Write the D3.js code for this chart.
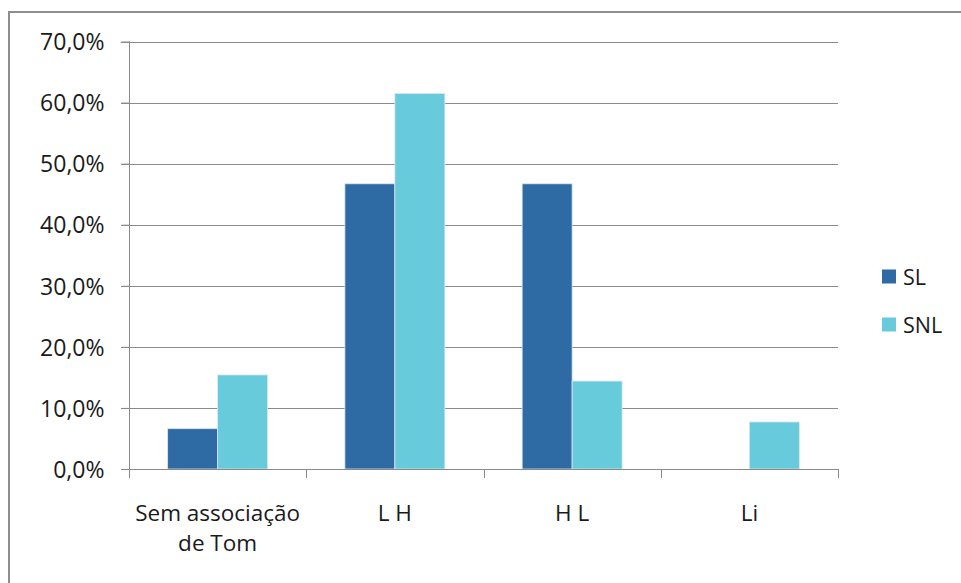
<!DOCTYPE html>
<html>
<head>
<meta charset="utf-8">
<script src="https://cdn.jsdelivr.net/npm/d3@7"></script>
<style>
  html, body { margin: 0; padding: 0; background: #fff; }
  svg { display: block; }
  text { font-family: "Open Sans", sans-serif; fill: #1a1a1a; }
</style>
</head>
<body>
<svg id="chart" width="961" height="583"></svg>
<script>
const categories = [["Sem associação", "de Tom"], ["L H"], ["H L"], ["Li"]];
const seriesNames = ["SL", "SNL"];
const slValues = [6.6, 46.7, 46.7, 0];
const snlValues = [15.4, 61.5, 14.4, 7.7];
const yTicks = [0, 10, 20, 30, 40, 50, 60, 70];
const colors = ["#2E6BA4", "#67CBDB"];

const svg = d3.select("#chart");
const plot = { left: 129, right: 838, top: 41.5, bottom: 469 };

// outer chart border
svg.append("rect")
  .attr("x", 9).attr("y", 12)
  .attr("width", 1000).attr("height", 1000)
  .attr("fill", "none").attr("stroke", "#8e8e8e").attr("stroke-width", 2);

const catIdx = categories.map((d, i) => i);
const x = d3.scaleBand().domain(catIdx).range([plot.left, plot.right]).padding(0);
const bw = x.bandwidth();
const x1 = d3.scaleBand().domain(seriesNames).range([0.218 * bw, 0.782 * bw]).padding(0);
const y = d3.scaleLinear().domain([0, 70]).range([plot.bottom, plot.top]);

// gridlines
svg.append("g").selectAll("line").data(yTicks.filter(t => t > 0)).join("line")
  .attr("x1", plot.left - 8).attr("x2", plot.right)
  .attr("y1", d => Math.round(y(d)) + 0.5).attr("y2", d => Math.round(y(d)) + 0.5)
  .attr("stroke", "#8a8a8a").attr("stroke-width", 1);

// bars
const data = catIdx.map(i => ({ i, vals: [slValues[i], snlValues[i]] }));
const groups = svg.append("g").selectAll("g").data(data).join("g")
  .attr("transform", d => `translate(${x(d.i)},0)`);
groups.selectAll("rect").data(d => d.vals.map((v, k) => ({ v, k })).filter(e => e.v > 0)).join("rect")
  .attr("x", e => x1(seriesNames[e.k]))
  .attr("width", x1.bandwidth())
  .attr("y", e => y(e.v))
  .attr("height", e => y(0) - y(e.v))
  .attr("fill", e => colors[e.k])
  .attr("stroke", "#dbe6ef").attr("stroke-width", 0.8);

// y axis
const yAxis = d3.axisLeft(y).tickValues(yTicks).tickSize(8)
  .tickFormat(d => d.toFixed(1).replace(".", ",") + "%");
const yg = svg.append("g").attr("transform", `translate(${plot.left + 0.5},0)`).call(yAxis);
yg.select(".domain").attr("stroke", "#8a8a8a").attr("d", `M0,${y(70)}V${y(0)}`);
yg.selectAll(".tick line").attr("stroke", "#8a8a8a");
yg.selectAll(".tick text")
  .attr("x", -25).attr("dy", "0.36em")
  .style("font-family", "'Open Sans', sans-serif").style("font-size", "23px").attr("fill", "#1a1a1a");

// x axis
const xa = svg.append("g");
xa.append("line").attr("x1", plot.left - 8).attr("x2", plot.right)
  .attr("y1", plot.bottom + 0.5).attr("y2", plot.bottom + 0.5).attr("stroke", "#8a8a8a");
const bounds = catIdx.map(i => x(i)).concat([x(catIdx[catIdx.length - 1]) + bw]);
xa.selectAll("line.t").data(bounds).join("line").attr("class", "t")
  .attr("x1", d => Math.round(d) + 0.5).attr("x2", d => Math.round(d) + 0.5)
  .attr("y1", plot.bottom).attr("y2", plot.bottom + 9).attr("stroke", "#8a8a8a");
const labels = xa.selectAll("text").data(data).join("text")
  .attr("text-anchor", "middle")
  .style("font-size", "22.5px");
labels.each(function(d) {
  const t = d3.select(this);
  categories[d.i].forEach((line, k) => {
    t.append("tspan").attr("x", x(d.i) + bw / 2).attr("y", 521 + k * 30).text(line);
  });
});

// legend
const lg = svg.append("g").selectAll("g").data(seriesNames).join("g")
  .attr("transform", (d, k) => `translate(882,${269.5 + k * 48})`);
lg.append("rect").attr("width", 14).attr("height", 14).attr("fill", (d, k) => colors[k]);
lg.append("text").attr("x", 21).attr("y", 15).style("font-size", "21.5px").text(d => d);
</script>
</body>
</html>
